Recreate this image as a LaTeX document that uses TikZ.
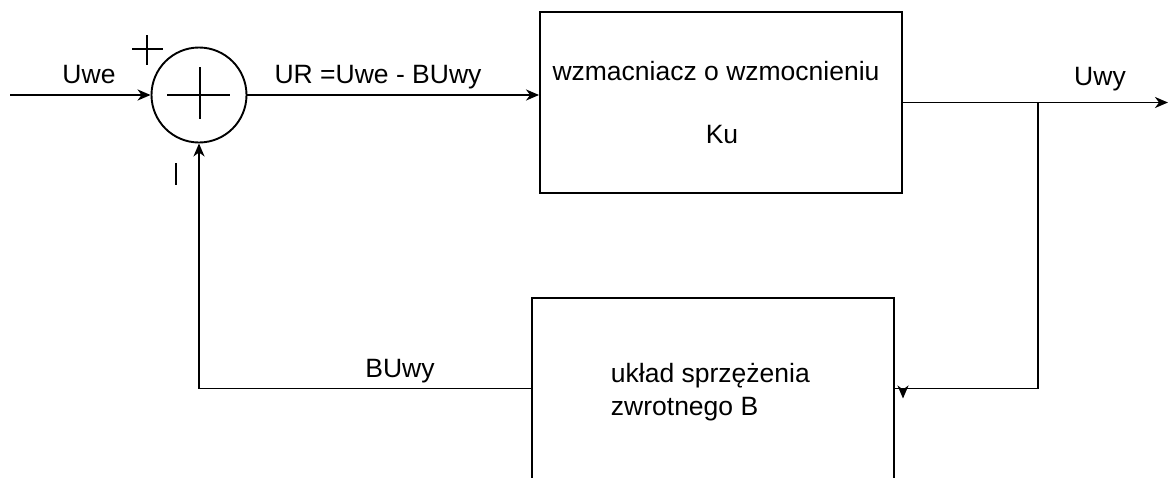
\documentclass[tikz,border=0pt]{standalone}
\usepackage{fontspec}
\setmainfont{Liberation Sans}
\usepackage{tikz}
\usetikzlibrary{positioning,arrows.meta}

\begin{document}
\begin{tikzpicture}[
  x=1pt, y=-1pt,
  >={Stealth[length=13pt,width=11pt,inset=4pt]},
  line width=1.9pt,
  sumnode/.style={draw, circle, minimum size=95pt, inner sep=0pt},
  block/.style={draw, minimum width=362pt, minimum height=181pt, inner sep=0pt},
  lbl/.style={inner sep=0pt, font=\fontsize{26.5}{30}\selectfont},
]
\clip (0,0) rectangle (1168,477);
% summing junction and the two blocks
\node[sumnode] (sum) at (199,95) {};
\node[block] (amp) at (721,102.5) {};
\node[block] (fb) at (713,388.5) {};
\coordinate (in) at (10,95);
\coordinate (out) at (1168,102.5);
\coordinate (br) at (1038,102.5);
\coordinate (fbin) at (903,388.5);
% signs
\draw (167,95) -- (230,95) (200,67) -- (200,119);
\draw (132,49) -- (163,49) (147,35) -- (147,65);
\draw (176,163) -- (176,185);
% labels
\node[lbl, anchor=base] (uwe) at (89,83) {Uwe};
\node[lbl, anchor=base] (ur) at (378,83) {UR =Uwe - BUwy};
\node[lbl, anchor=base] (ampa) at (716,80) {wzmacniacz o wzmocnieniu};
\node[lbl, anchor=base] (ampb) at (722,143) {Ku};
\node[lbl, anchor=base] (uwy) at (1100,85) {Uwy};
\node[lbl, anchor=base] (buwy) at (400,377) {BUwy};
\node[lbl, anchor=base west] (fba) at (610,382) {układ sprzężenia};
\node[lbl, anchor=base west] (fbb) at (610,415) {zwrotnego B};
% connectors
\draw[->] (in) -- (sum.west);
\draw[->] (sum.east) -- (sum -| amp.west);
\draw[->] (amp.east) -- (out);
\draw (br) |- (fb.east);
\draw[->] (fbin) -- ++(0,10);
\draw[->] (fb.west) -| (sum.south);
\end{tikzpicture}
\end{document}
